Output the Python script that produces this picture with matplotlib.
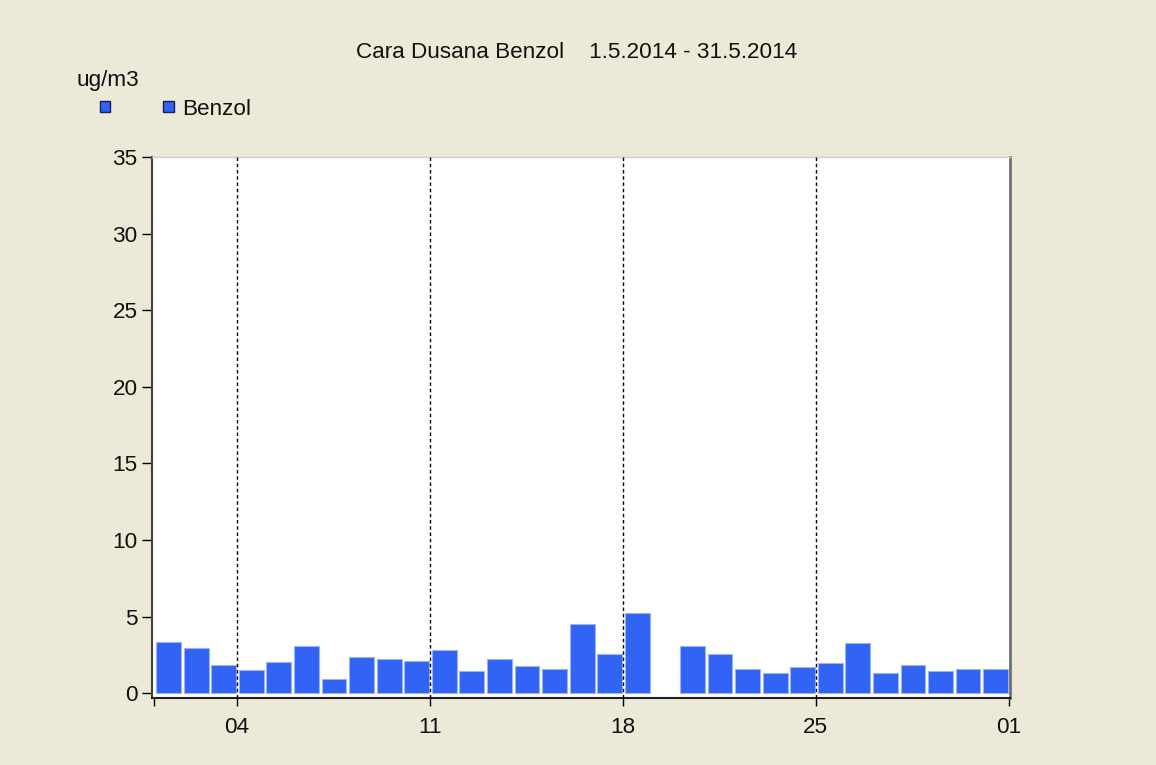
import numpy as np
import matplotlib
matplotlib.use("Agg")
import matplotlib.pyplot as plt
from matplotlib.patches import Rectangle

plt.rcParams['font.family'] = ['Liberation Sans', 'DejaVu Sans']

# daily Benzol values, 1.5.2014 - 31.5.2014 (day 19 missing)
days = np.arange(1, 32)
benzol = [3.37, 2.94, 1.85, 1.50, 2.05, 3.11, 0.96, 2.40, 2.22, 2.13,
          2.85, 1.44, 2.22, 1.77, 1.61, 4.55, 2.59, 5.27, np.nan, 3.11,
          2.59, 1.61, 1.35, 1.70, 1.96, 3.31, 1.35, 1.87, 1.44, 1.61, 1.61]
tick_pos = [1, 4, 11, 18, 25, 32]
tick_labels = ["", "04", "11", "18", "25", "01"]
week_lines = [4, 11, 18, 25]

bg = '#ECE9D8'
blue = '#3163F5'
fs = 16.2

fig = plt.figure(figsize=(11.56, 7.65), dpi=100, facecolor=bg)
ax = fig.add_axes([0.1312, 0.0876, 0.7425, 0.7072])
ax.set_facecolor('white')

ax.bar(days + 0.08, benzol, width=0.9, align='edge', color=blue,
       edgecolor='#9db5ee', linewidth=0.8, zorder=2)

for d in week_lines:
    ax.axvline(d, color='black', linestyle=(0, (2.5, 2)), linewidth=1, zorder=3)

ax.set_xlim(0.917, 32.05)
ax.set_ylim(-0.3, 35)
ax.set_yticks(np.arange(0, 36, 5))
ax.set_xticks(tick_pos)
ax.set_xticklabels(tick_labels)
ax.tick_params(axis='y', length=7, width=1, pad=3, labelsize=fs, labelcolor='#111111')
ax.tick_params(axis='x', length=6, width=1, pad=8, labelsize=fs, labelcolor='#111111')

ax.spines['left'].set_color('#404040')
ax.spines['left'].set_linewidth(1.5)
ax.spines['bottom'].set_color('#202020')
ax.spines['bottom'].set_linewidth(1.5)
ax.spines['right'].set_color('#707070')
ax.spines['right'].set_linewidth(2)
ax.spines['top'].set_color('#d0d0d0')
ax.spines['top'].set_linewidth(1)

fig.text(0.4987, 0.9242, "Cara Dusana Benzol    1.5.2014 - 31.5.2014",
         ha='center', va='baseline', fontsize=fs, color='#111111')
fig.text(76 / 1156, 0.8876, "ug/m3", ha='left', va='baseline', fontsize=fs, color='#111111')

# legend squares
for x0 in [100, 163]:
    fig.add_artist(Rectangle((x0 / 1156, (765 - 112) / 765), 10.5 / 1156, 11 / 765,
                             transform=fig.transFigure, facecolor=blue,
                             edgecolor='#1a2050', linewidth=1))
fig.text(182 / 1156, 0.8497, "Benzol", ha='left', va='baseline', fontsize=fs, color='#111111')

fig.savefig("out.png", dpi=100, facecolor=bg)
